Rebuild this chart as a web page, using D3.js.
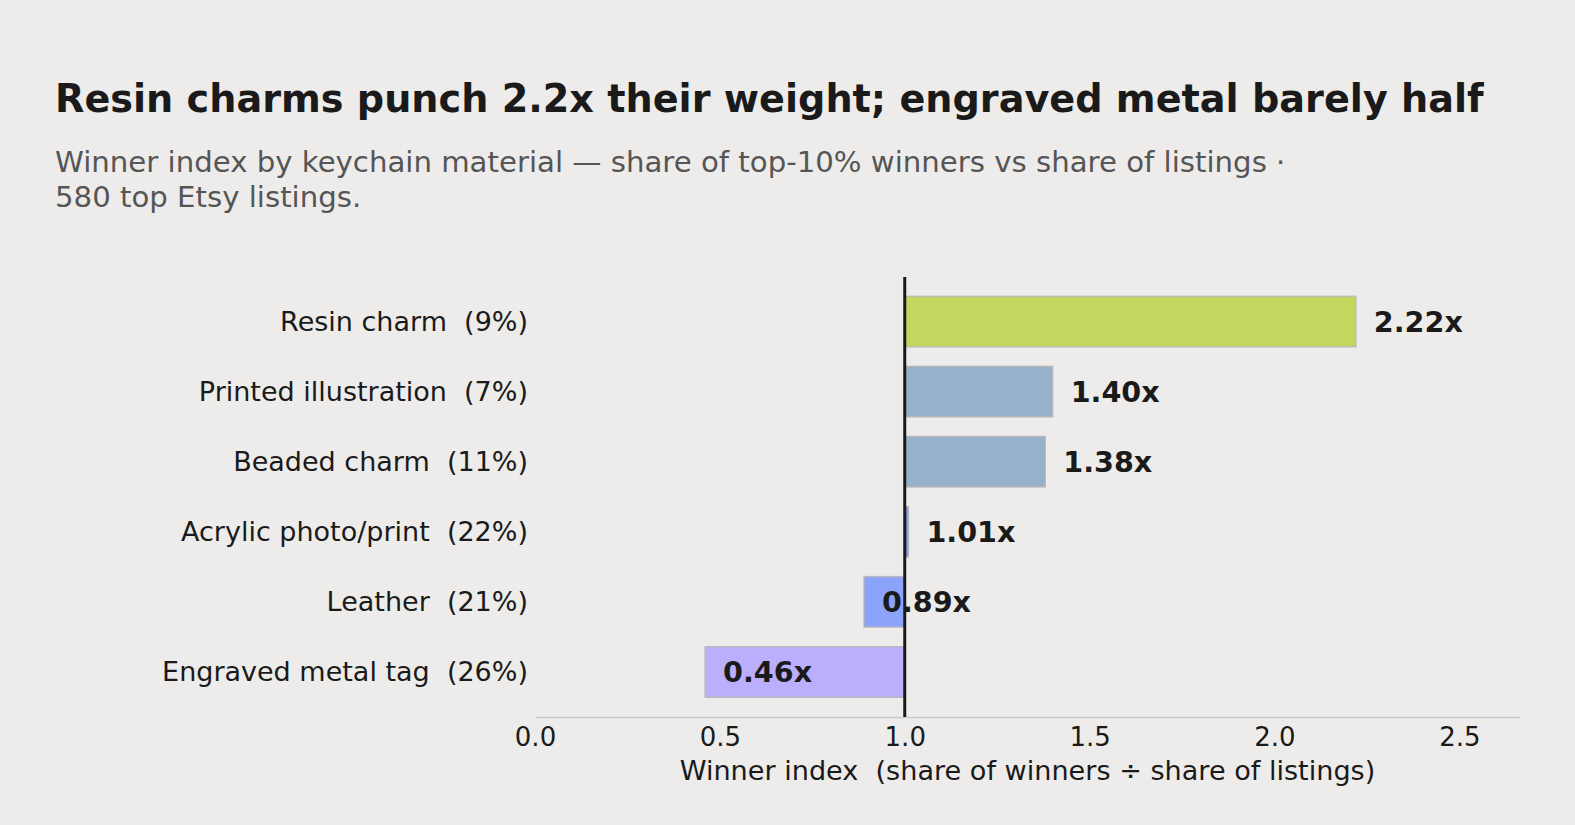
<!DOCTYPE html>
<html>
<head>
<meta charset="utf-8">
<script src="https://cdn.jsdelivr.net/npm/d3@7"></script>
<style>
  html, body { margin: 0; padding: 0; background: #edecea; }
  svg { display: block; font-family: "DejaVu Sans", sans-serif; }
</style>
</head>
<body>
<svg id="chart" width="1575" height="825"></svg>
<script>
// data
const materials = ["Resin charm", "Printed illustration", "Beaded charm", "Acrylic photo/print", "Leather", "Engraved metal tag"];
const listingShare = [9, 7, 11, 22, 21, 26];
const winnerIndex = [2.22, 1.40, 1.38, 1.01, 0.89, 0.46];
const barColors = ["#c4d65e", "#97b1cb", "#97b1cb", "#7f93f2", "#8ca3fc", "#bbaefc"];
const xTicks = [0, 0.5, 1, 1.5, 2, 2.5];

const width = 1575;
const plotLeft = 535, plotRight = 1520, plotTop = 277, plotBottom = 717;

const svg = d3.select("#chart");

svg.append("rect").attr("width", width).attr("height", 825).attr("fill", "#edecea");

svg.append("text")
  .attr("x", 55).attr("y", 112)
  .attr("font-size", 38.2).attr("font-weight", "bold").attr("fill", "#1a1a1a")
  .text("Resin charms punch 2.2x their weight; engraved metal barely half");

const sub = svg.append("text")
  .attr("x", 55).attr("y", 172)
  .attr("font-size", 29.2).attr("fill", "#555555");
sub.append("tspan").attr("x", 55).text("Winner index by keychain material \u2014 share of top-10% winners vs share of listings \u00b7");
sub.append("tspan").attr("x", 55).attr("dy", 35).text("580 top Etsy listings.");

const x = d3.scaleLinear()
  .domain([0, d3.max(winnerIndex) * 1.2])
  .range([plotLeft, plotRight]);

const y = d3.scaleBand()
  .domain(materials)
  .range([286.5, 707])
  .paddingInner(0.28)
  .paddingOuter(0.14);

const rows = materials.map((m, i) => ({
  label: m, share: listingShare[i], value: winnerIndex[i], color: barColors[i]
}));

// bars start at the break-even line (1.0)
svg.append("g")
  .selectAll("rect")
  .data(rows)
  .join("rect")
  .attr("x", (d) => x(Math.min(1, d.value)))
  .attr("y", (d) => y(d.label))
  .attr("width", (d) => Math.abs(x(d.value) - x(1)))
  .attr("height", y.bandwidth())
  .attr("fill", (d) => d.color)
  .attr("stroke", "#b4b4b4")
  .attr("stroke-opacity", 0.8)
  .attr("stroke-width", 1.5);

svg.append("g")
  .selectAll("text")
  .data(rows)
  .join("text")
  .attr("x", (d) => x(d.value) + 18)
  .attr("y", (d) => y(d.label) + y.bandwidth() / 2)
  .attr("dy", "0.35em")
  .attr("font-size", 28.6)
  .attr("font-weight", "bold")
  .attr("fill", "#1a1a1a")
  .text((d) => d.value.toFixed(2) + "x");

// category labels
svg.append("g")
  .selectAll("text")
  .data(rows)
  .join("text")
  .attr("x", 528)
  .attr("y", (d) => y(d.label) + y.bandwidth() / 2)
  .attr("dy", "0.35em")
  .attr("text-anchor", "end")
  .attr("font-size", 27)
  .attr("fill", "#1a1a1a")
  .style("white-space", "pre")
  .text((d) => `${d.label}  (${d.share}%)`);

// x axis
const xAxis = d3.axisBottom(x)
  .tickValues(xTicks)
  .tickFormat(d3.format(".1f"))
  .tickSize(0)
  .tickPadding(11);

svg.append("g")
  .attr("transform", `translate(0,${plotBottom})`)
  .call(xAxis)
  .call((g) => g.select(".domain").attr("stroke", "#cccccc").attr("stroke-width", 1.5))
  .call((g) => g.selectAll(".tick text")
    .attr("font-size", 26)
    .attr("font-family", "DejaVu Sans, sans-serif")
    .attr("fill", "#1a1a1a"));

svg.append("text")
  .attr("x", (plotLeft + plotRight) / 2)
  .attr("y", 780)
  .attr("text-anchor", "middle")
  .attr("font-size", 27.1)
  .attr("fill", "#1a1a1a")
  .style("white-space", "pre")
  .text("Winner index  (share of winners \u00f7 share of listings)");

// break-even line
svg.append("line")
  .attr("x1", x(1)).attr("x2", x(1))
  .attr("y1", plotTop).attr("y2", plotBottom)
  .attr("stroke", "#1a1a1a")
  .attr("stroke-width", 3);
</script>
</body>
</html>
